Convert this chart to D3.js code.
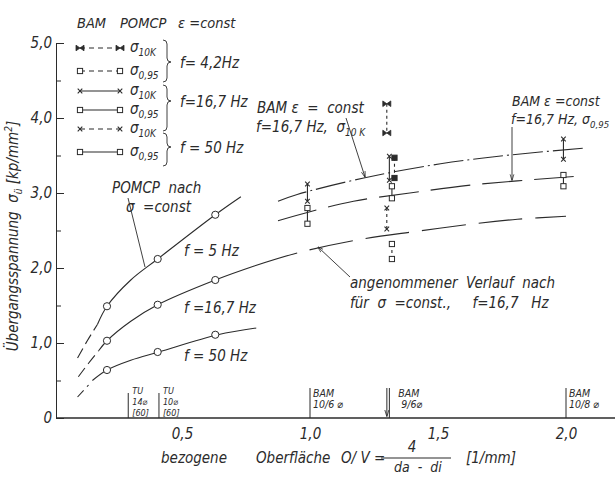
<!DOCTYPE html>
<html>
<head>
<meta charset="utf-8">
<script src="https://cdn.jsdelivr.net/npm/d3@7"></script>
<style>
body { margin: 0; background: #fff; }
svg text { font-family: "Liberation Sans Narrow", "DejaVu Sans Condensed", "Liberation Sans", sans-serif; font-style: italic; fill: #2b2b2b; white-space: pre; }
</style>
</head>
<body>
<svg id="chart" width="615" height="477"></svg>
<script>
// axis ticks
const yTicks = [0, 1, 2, 3, 4, 5];
const yMinorTicks = [0.5, 1.5, 2.5, 3.5, 4.5];
const xTicks = [0.5, 1.0, 1.5, 2.0];

// POMCP measurements (sigma = const), circles
const pomcpX = [0.207, 0.405, 0.63];
const pomcp5Hz = [1.49, 2.12, 2.71];
const pomcp16Hz = [1.03, 1.51, 1.84];
const pomcp50Hz = [0.64, 0.88, 1.11];

// fitted curves [O/V, sigma_u]
const curve5HzLow = [[0.092, 0.80], [0.13, 1.03], [0.17, 1.25]];
const curve5Hz = [[0.17, 1.25], [0.207, 1.49], [0.30, 1.84], [0.405, 2.12], [0.63, 2.71], [0.73, 2.95]];
const curve16HzLow = [[0.095, 0.55], [0.135, 0.73], [0.175, 0.90]];
const curve16Hz = [[0.175, 0.90], [0.207, 1.03], [0.30, 1.29], [0.405, 1.51], [0.63, 1.84], [0.785, 2.03]];
const curve16HzAssumed = [[0.785, 2.03], [0.96, 2.21], [1.21, 2.39], [1.42, 2.49], [1.64, 2.59], [1.81, 2.65], [2.0, 2.69]];
const curve50HzLow = [[0.092, 0.28], [0.135, 0.44]];
const curve50Hz = [[0.15, 0.50], [0.207, 0.64], [0.30, 0.77], [0.41, 0.88], [0.64, 1.11], [0.79, 1.20]];

// BAM eps = const curves
const bam10KCurve = [[0.875, 2.89], [0.95, 2.98], [1.21, 3.20], [1.51, 3.39], [1.79, 3.51], [2.08, 3.60]];
const bam095Curve = [[0.875, 2.63], [1.0, 2.75], [1.17, 2.89], [1.39, 3.00], [1.64, 3.11], [2.03, 3.22]];

// BAM scatter ranges [O/V, upper, lower]
const bam42Hz10K = [[1.30, 4.19, 3.80]];
const bam42Hz095 = [[1.33, 3.47, 3.20]];
const bam16Hz10K = [[0.99, 3.12, 2.89], [1.31, 3.49, 3.17], [1.99, 3.72, 3.45]];
const bam16Hz095 = [[0.99, 2.80, 2.59], [1.32, 3.09, 2.93], [1.99, 3.24, 3.09]];
const bam50Hz10K = [[1.30, 2.80, 2.52]];
const bam50Hz095 = [[1.32, 2.32, 2.12]];

// specimen markers on the x axis
const specimenX = [0.29, 0.41, 1.0, 1.31, 2.0];
const specimenLabels = [["TU", "14\u2300", "[60]"], ["TU", "10\u2300", "[60]"], ["BAM", "10/6 \u2300"], ["BAM", "9/6\u2300"], ["BAM", "10/8 \u2300"]];

// legend
const legendSub = ["10K", "0,95", "10K", "0,95", "10K", "0,95"];
const legendFreq = ["f= 4,2Hz", "f=16,7 Hz", "f = 50 Hz"];

const ink = '#2b2b2b';
const svg = d3.select('#chart');

const x = d3.scaleLinear().domain([0, 2]).range([54, 566]);
const y = d3.scaleLinear().domain([0, 5]).range([418, 43]);

svg.append('defs').append('marker')
    .attr('id', 'arrow')
    .attr('viewBox', '0 0 10 10')
    .attr('refX', 9).attr('refY', 5)
    .attr('markerWidth', 7).attr('markerHeight', 7)
    .attr('orient', 'auto-start-reverse')
    .append('path')
    .attr('d', 'M0,2 L10,5 L0,8')
    .attr('fill', 'none')
    .attr('stroke', ink)
    .attr('stroke-width', 1.2);

// axes
const fmt = d => d === 0 ? '0' : d.toFixed(1).replace('.', ',');

svg.append('g')
    .attr('transform', 'translate(56,0)')
    .call(d3.axisLeft(y).tickValues(yTicks).tickSize(-8).tickSizeOuter(0).tickPadding(4).tickFormat(fmt))
    .attr('font-size', 15)
    .attr('color', ink);

svg.append('g')
    .attr('transform', 'translate(56,0)')
    .call(d3.axisLeft(y).tickValues(yMinorTicks).tickSize(-5).tickFormat(''))
    .attr('color', ink)
    .select('.domain').remove();

const xAxis = svg.append('g')
    .attr('transform', 'translate(0,418)')
    .call(d3.axisBottom(x).tickValues(xTicks).tickSize(0).tickPadding(10).tickFormat(fmt))
    .attr('font-size', 15);
xAxis.select('.domain').remove();

svg.append('line')
    .attr('x1', 56).attr('x2', 615)
    .attr('y1', 418).attr('y2', 418)
    .attr('stroke', ink).attr('stroke-width', 1.3);

// curves
const line = d3.line().x(d => x(d[0])).y(d => y(d[1])).curve(d3.curveCatmullRom.alpha(0.5));

function drawCurve(pts, dash) {
    svg.append('path')
        .datum(pts)
        .attr('d', line)
        .attr('fill', 'none')
        .attr('stroke', ink)
        .attr('stroke-width', 1.1)
        .attr('stroke-dasharray', dash || null);
}

drawCurve(curve5HzLow, '11 5');
drawCurve(curve5Hz);
drawCurve(curve16HzLow, '11 5');
drawCurve(curve16Hz);
drawCurve(curve16HzAssumed, '44 13');
drawCurve(curve50HzLow, '9 5');
drawCurve(curve50Hz);
drawCurve(bam10KCurve, '30 4 2 4');
drawCurve(bam095Curve, '40 12');

// markers
function marker(g, type, cx, cy, filled) {
    if (type === 'circle') {
        g.append('circle').attr('cx', cx).attr('cy', cy).attr('r', 3.6)
            .attr('fill', '#fff').attr('stroke', ink).attr('stroke-width', 1);
    } else if (type === 'square') {
        g.append('rect').attr('x', cx - 2.6).attr('y', cy - 2.6).attr('width', 5.2).attr('height', 5.2)
            .attr('fill', filled ? ink : '#fff').attr('stroke', ink).attr('stroke-width', 1);
    } else if (type === 'cross') {
        g.append('path')
            .attr('d', `M${cx - 2.3},${cy - 2.3}L${cx + 2.3},${cy + 2.3}M${cx - 2.3},${cy + 2.3}L${cx + 2.3},${cy - 2.3}`)
            .attr('stroke', ink).attr('stroke-width', 1.1);
    } else if (type === 'bowtie') {
        g.append('path')
            .attr('d', `M${cx - 4},${cy - 2.8}L${cx},${cy}L${cx - 4},${cy + 2.8}ZM${cx + 4},${cy - 2.8}L${cx},${cy}L${cx + 4},${cy + 2.8}Z`)
            .attr('fill', ink).attr('stroke', ink).attr('stroke-width', 0.8);
    }
}

const pts = svg.append('g');
[pomcp5Hz, pomcp16Hz, pomcp50Hz].forEach(series => {
    series.forEach((v, i) => marker(pts, 'circle', x(pomcpX[i]), y(v)));
});

function drawRange(data, type, dashed, filled) {
    data.forEach(d => {
        pts.append('line')
            .attr('x1', x(d[0])).attr('x2', x(d[0]))
            .attr('y1', y(d[1])).attr('y2', y(d[2]))
            .attr('stroke', ink).attr('stroke-width', 1.1)
            .attr('stroke-dasharray', dashed ? '3 3' : null);
        marker(pts, type, x(d[0]), y(d[1]), filled);
        marker(pts, type, x(d[0]), y(d[2]), filled);
    });
}

drawRange(bam42Hz10K, 'bowtie', true);
drawRange(bam42Hz095, 'square', true, true);
drawRange(bam16Hz10K, 'cross', false);
drawRange(bam16Hz095, 'square', false);
drawRange(bam50Hz10K, 'cross', true);
drawRange(bam50Hz095, 'square', true);

// specimen markers on x axis
specimenX.forEach((v, i) => {
    const px = x(v);
    const isTU = specimenLabels[i][0] === 'TU';
    const top = isTU ? 393 : 388;
    svg.append('line')
        .attr('x1', px).attr('x2', px).attr('y1', top).attr('y2', 418)
        .attr('stroke', ink).attr('stroke-width', 1);
    const fs = isTU ? 9 : 10.5;
    specimenLabels[i].forEach((t, j) => {
        svg.append('text')
            .attr('x', px + (isTU ? 4 : 3) + (i === 3 ? 6 + j * 3 : 0))
            .attr('y', (isTU ? 394 : 397) + j * 11)
            .attr('font-size', fs)
            .text(t);
    });
    if (i === 3) {
        svg.append('line')
            .attr('x1', px - 2.5).attr('x2', px - 2.5).attr('y1', top).attr('y2', 416)
            .attr('stroke', ink).attr('stroke-width', 1)
            .attr('marker-end', 'url(#arrow)');
    }
});

// legend
const legendRowY = [48, 71, 91, 110, 129, 152];
const legendType = ['bowtie', 'square', 'cross', 'square', 'cross', 'square'];
const legendDash = [true, true, false, false, true, false];

svg.append('text').attr('x', 77).attr('y', 28).attr('font-size', 14.5).text('BAM');
svg.append('text').attr('x', 120).attr('y', 28).attr('font-size', 14.5).text('POMCP');
svg.append('text').attr('x', 178).attr('y', 28).attr('font-size', 14.5).text('\u03b5 =const');

legendRowY.forEach((ry, i) => {
    svg.append('line')
        .attr('x1', 80).attr('x2', 120).attr('y1', ry).attr('y2', ry)
        .attr('stroke', ink).attr('stroke-width', 1.1)
        .attr('stroke-dasharray', legendDash[i] ? '5 4' : null);
    marker(svg, legendType[i], 80, ry);
    marker(svg, legendType[i], 120, ry);
    const t = svg.append('text').attr('x', 130).attr('y', ry + 4).attr('font-size', 15);
    t.append('tspan').text('\u03c3');
    t.append('tspan').attr('font-size', 10).attr('dy', 4).text(legendSub[i]);
});

function brace(x0, y0, y1, ym) {
    const w = 4;
    return `M${x0},${y0}Q${x0 + w},${y0} ${x0 + w},${y0 + w}L${x0 + w},${ym - w}Q${x0 + w},${ym} ${x0 + 2 * w},${ym}` +
        `Q${x0 + w},${ym} ${x0 + w},${ym + w}L${x0 + w},${y1 - w}Q${x0 + w},${y1} ${x0},${y1}`;
}
const braceSpans = [[40, 82, 62], [85, 131, 101], [133, 166, 147]];
braceSpans.forEach((b, i) => {
    svg.append('path').attr('d', brace(163, b[0], b[1], b[2]))
        .attr('fill', 'none').attr('stroke', ink).attr('stroke-width', 0.9);
    svg.append('text').attr('x', 180).attr('y', b[2] + 6).attr('font-size', 15).text(legendFreq[i]);
});

// y axis title
const yt = svg.append('text')
    .attr('transform', 'translate(18,236) rotate(-90)')
    .attr('text-anchor', 'middle')
    .attr('font-size', 15);
yt.append('tspan').text('\u00dcbergangsspannung  \u03c3');
yt.append('tspan').attr('font-size', 10).attr('dy', 4).text('\u00fc');
yt.append('tspan').attr('dy', -4).text(' [kp/mm');
yt.append('tspan').attr('font-size', 10).attr('dy', -6).text('2');
yt.append('tspan').attr('dy', 6).text(']');

// x axis title
svg.append('text').attr('x', 161).attr('y', 463).attr('font-size', 15).text('bezogene');
svg.append('text').attr('x', 256).attr('y', 463).attr('font-size', 15).text('Oberfl\u00e4che');
svg.append('text').attr('x', 341).attr('y', 463).attr('font-size', 15).text('O/ V =');
svg.append('text').attr('x', 412).attr('y', 452).attr('text-anchor', 'middle').attr('font-size', 15).text('4');
svg.append('line').attr('x1', 381).attr('x2', 451).attr('y1', 458).attr('y2', 458).attr('stroke', ink).attr('stroke-width', 1.1);
svg.append('text').attr('x', 418).attr('y', 472).attr('text-anchor', 'middle').attr('font-size', 14).text('da  -  di');
svg.append('text').attr('x', 466).attr('y', 463).attr('font-size', 15).text('[1/mm]');

// annotations
function note(tx, ty, str, fs) {
    return svg.append('text').attr('x', tx).attr('y', ty).attr('font-size', fs || 15).text(str);
}
function leader(x1, y1, x2, y2, arrow) {
    svg.append('line').attr('x1', x1).attr('y1', y1).attr('x2', x2).attr('y2', y2)
        .attr('stroke', ink).attr('stroke-width', 0.9)
        .attr('marker-end', arrow ? 'url(#arrow)' : null);
}

note(112, 193, 'POMCP  nach');
note(126, 212, '\u03c3  =const');
leader(128, 198, 145, 267);

note(184, 256, 'f = 5 Hz');
note(184, 313, 'f =16,7 Hz');
note(184, 361, 'f = 50 Hz');

note(257, 113, 'BAM \u03b5  =  const');
const n1 = note(256, 132, 'f=16,7 Hz,  \u03c3');
n1.append('tspan').attr('font-size', 10).attr('dy', 4).text('10 K');
leader(346, 118, 365, 177, true);

note(512, 106, 'BAM \u03b5 =const', 14);
const n2 = note(511, 124, 'f=16,7 Hz, \u03c3', 14);
n2.append('tspan').attr('font-size', 9.5).attr('dy', 4).text('0,95');
leader(512, 127, 512, 180, true);

note(350, 288, 'angenommener  Verlauf  nach');
note(350, 308, 'f\u00fcr  \u03c3  =const.,     f=16,7   Hz');
leader(350, 277, 318, 247, true);
</script>
</body>
</html>
